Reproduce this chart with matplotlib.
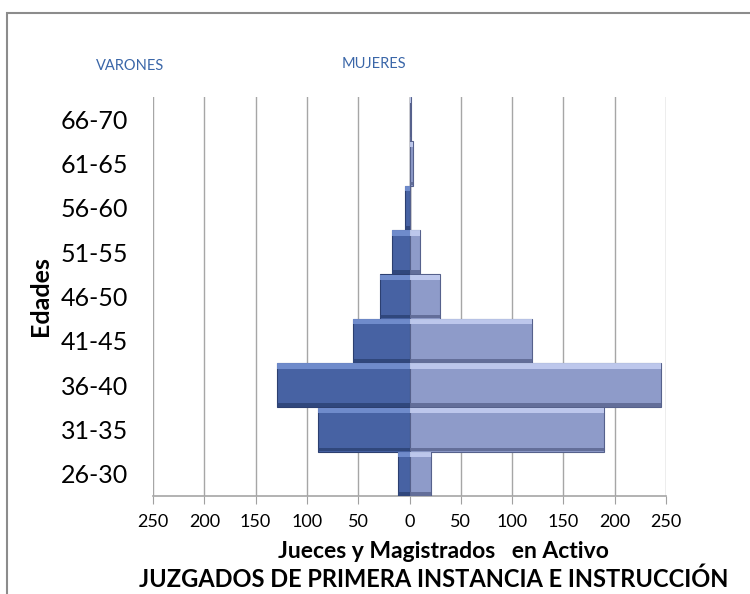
import matplotlib.pyplot as plt
import numpy as np
from matplotlib.patches import Rectangle

plt.rcParams['font.family'] = ['Lato', 'DejaVu Sans']

# edades y efectivos
edades = ['26-30', '31-35', '36-40', '41-45', '46-50', '51-55', '56-60', '61-65', '66-70']
varones = [11, 89, 129, 55, 29, 17, 4, 0, 0]
mujeres = [21, 190, 245, 119, 30, 10, 0, 3, 1]
ticks = [-250, -200, -150, -100, -50, 0, 50, 100, 150, 200, 250]

fig = plt.figure(figsize=(7.5, 5.94), dpi=100)
ax = fig.add_axes([153/750, 1 - 496/594, 513/750, 399/594])

y = np.arange(len(edades))
neg = [-v for v in varones]

ax.barh(y, neg, height=1.0, color='#4762a3', edgecolor='#2c3f70', linewidth=0.8, zorder=3)
ax.barh(y, mujeres, height=1.0, color='#8e9bc9', edgecolor='#56618c', linewidth=0.8, zorder=3)
# bisel: franja clara arriba y oscura abajo
ax.barh(y + 0.43, neg, height=0.12, color='#7490d0', linewidth=0, zorder=4, alpha=0.9)
ax.barh(y + 0.43, mujeres, height=0.12, color='#c3cdf0', linewidth=0, zorder=4, alpha=0.9)
ax.barh(y - 0.45, neg, height=0.08, color='#2e4478', linewidth=0, zorder=4, alpha=0.9)
ax.barh(y - 0.45, mujeres, height=0.08, color='#5f6a94', linewidth=0, zorder=4, alpha=0.9)

ax.set_xlim(-250, 250)
ax.set_ylim(-0.5, len(edades) - 0.5)
ax.set_xticks(ticks)
ax.set_xticklabels([str(abs(t)) for t in ticks], fontsize=13)
ax.set_yticks(y)
ax.set_yticklabels(edades, fontsize=18)
ax.tick_params(axis='y', length=0, pad=18)
ax.tick_params(axis='x', length=6, color='#a0a0a0', pad=7)
ax.grid(axis='x', color='#a6a6a6', linewidth=1.0, zorder=0)
ax.axvline(0, color='#8c8c8c', linewidth=1.0, zorder=2)
for s in ['top', 'right', 'left']:
    ax.spines[s].set_visible(False)
ax.spines['bottom'].set_color('#a6a6a6')
ax.spines['bottom'].set_linewidth(1.2)

ax.set_ylabel('Edades', fontsize=18, fontweight='bold')
ax.yaxis.set_label_coords(-0.197, 0.5)
ax.set_xlabel('Jueces y Magistrados   en Activo', fontsize=16.5, fontweight='bold')
ax.xaxis.set_label_coords(0.567, -0.112)

fig.text(434/750, 1 - 579/594, 'JUZGADOS DE PRIMERA INSTANCIA E INSTRUCCIÓN',
         fontsize=17, fontweight='bold', ha='center', va='center')
fig.text(130/750, 1 - 66/594, 'VARONES', color='#3a66a8', fontsize=10.5, ha='center', va='center')
fig.text(374/750, 1 - 64/594, 'MUJERES', color='#3a66a8', fontsize=10.5, ha='center', va='center')

# marco del gráfico
fig.patches.append(Rectangle((7/750, -0.1), 1.0, 1 - 13/594 + 0.1, transform=fig.transFigure,
                             fill=False, edgecolor='#8c8c8c', linewidth=1.5))

fig.savefig('out.png', dpi=100)
